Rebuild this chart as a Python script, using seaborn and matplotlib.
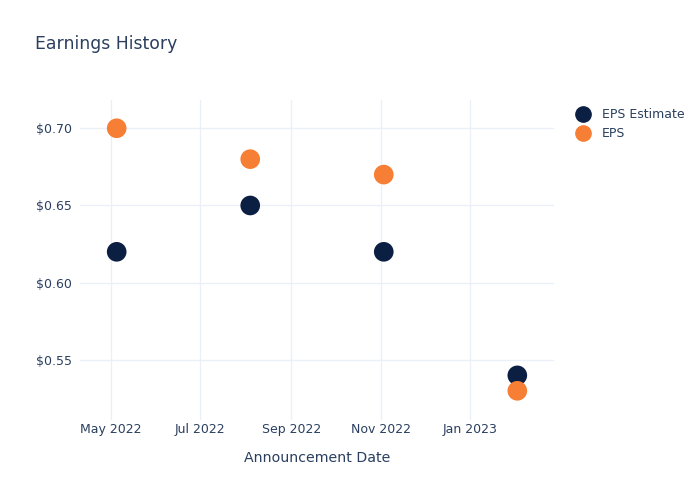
import matplotlib
matplotlib.use("Agg")
import matplotlib.pyplot as plt
import matplotlib.dates as mdates
from matplotlib.ticker import FuncFormatter, FixedLocator
from matplotlib.lines import Line2D
import seaborn as sns
import pandas as pd

dates = ["2022-05-05", "2022-08-04", "2022-11-03", "2023-02-02"]
eps_estimate = [0.62, 0.65, 0.62, 0.54]
eps_actual = [0.70, 0.68, 0.67, 0.53]
series_names = ["EPS Estimate", "EPS"]
colors = ["#0b1f42", "#f67f35"]
y_ticks = [0.55, 0.60, 0.65, 0.70]

df = pd.DataFrame({
    "date": pd.to_datetime(dates * 2),
    "value": eps_estimate + eps_actual,
    "series": [series_names[0]] * len(dates) + [series_names[1]] * len(dates),
})

sns.set_theme(style="white")
plt.rcParams["font.family"] = ["DejaVu Sans"]
text_color = "#2a3f5f"
grid_color = "#ebf0f8"

fig = plt.figure(figsize=(7, 5), dpi=100)
ax = fig.add_axes([80 / 700, 80 / 500, (554 - 80) / 700, (420 - 100) / 500])

sns.scatterplot(data=df, x="date", y="value", hue="series",
                palette=dict(zip(series_names, colors)),
                hue_order=series_names, s=200, edgecolor="none",
                linewidth=0, legend=False, ax=ax, zorder=3)

ax.set_xlim(pd.Timestamp("2022-04-10"), pd.Timestamp("2023-02-27"))
ax.set_ylim(0.5111, 0.7183)

ax.xaxis.set_major_locator(mdates.MonthLocator(bymonth=[1, 3, 5, 7, 9, 11]))
ax.xaxis.set_major_formatter(mdates.DateFormatter("%b %Y"))
ax.yaxis.set_major_locator(FixedLocator(y_ticks))
ax.yaxis.set_major_formatter(FuncFormatter(lambda v, p: f"${v:.2f}"))

ax.grid(True, color=grid_color, linewidth=1)
ax.set_axisbelow(True)
for s in ax.spines.values():
    s.set_visible(False)
ax.tick_params(axis="both", length=0, labelsize=9, colors=text_color)
ax.tick_params(axis="x", pad=2)
ax.tick_params(axis="y", pad=6)

ax.set_xlabel("Announcement Date", fontsize=10.2, color=text_color, labelpad=11)
ax.set_ylabel("")

fig.text(35 / 700, 1 - 44 / 500, "Earnings History", fontsize=12.4,
         color=text_color, va="center", ha="left")

handles = [Line2D([0], [0], marker="o", linestyle="", markersize=11,
                  markerfacecolor=c, markeredgecolor=c) for c in colors]
leg = fig.legend(handles, series_names, loc="upper left",
                 bbox_to_anchor=(564 / 700, 1 - 97 / 500), frameon=False,
                 fontsize=9, labelcolor=text_color, handletextpad=0.9,
                 labelspacing=0.45, handlelength=1.2)

fig.savefig("out.png", dpi=100)
